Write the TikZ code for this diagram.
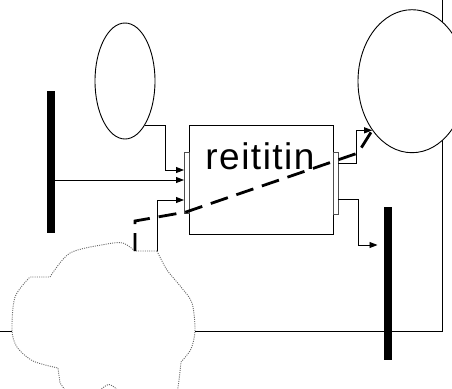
\documentclass[tikz,border=0pt]{standalone}
\usepackage{fontspec}
\newfontfamily\labelfont[LetterSpace=4.0]{Liberation Sans}
\usepackage{tikz}
\usetikzlibrary{shapes.geometric,arrows.meta}
\tikzset{ell/.style={ellipse,draw,fill=white,inner sep=0pt,line width=0.9pt},
  bar/.style={rectangle,fill=black,inner sep=0pt,minimum width=8pt},
  port/.style={rectangle,draw=black!70,fill=white,inner sep=0pt,minimum width=5pt,line width=0.8pt},
  wire/.style={line width=0.9pt},
  cloudline/.style={draw=black!60,fill=white,line width=0.9pt,dash pattern=on 1pt off 1.2pt},
  route/.style={line width=2.8pt,dash pattern=on 18pt off 9pt}}

\begin{document}
\begin{tikzpicture}[x=1pt,y=-1pt,>={Triangle[length=8pt,width=6pt]}]
    \useasboundingbox (0,0) rectangle (452,388);
    \clip (0,0) rectangle (452,388);

    \coordinate (w0) at (0,331);
    \coordinate (n0) at (442.5,0);
    \draw [wire] (w0) -| (n0);

    % cloud
    \draw [cloudline] plot[smooth] coordinates {(157,251) (167,270) (181,287) (192,303) (195,330) (191,349) (181,362)}
        -- plot[smooth] coordinates {(181,362) (179,380) (177,394)}
        -- plot[smooth] coordinates {(122,394) (109,384.5) (96,394)}
        -- (68,394) -- (60,383) -- (58,368)
        -- plot[smooth] coordinates {(58,368) (33,361) (17,347) (12,330) (15,297) (30,277)}
        -- (50,277)
        -- plot[smooth] coordinates {(50,277) (70,253) (107,244) (123,243) (135,251)}
        -- cycle;
    \coordinate (c1) at (135,251);
    \coordinate (c2) at (157,251);

    \node[ell,minimum width=60pt,minimum height=116pt] (ellL) at (125,81) {};
    \node[ell,minimum width=108pt,minimum height=143pt] (ellR) at (412,81.2) {};
    \node[bar,minimum height=142pt] (barL) at (51,162) {};
    \node[bar,minimum height=153pt] (barR) at (388,283.5) {};

    \node[rectangle,draw,fill=white,line width=0.9pt,inner sep=0pt,minimum width=144pt,minimum height=109pt] (box) at (261,179.5) {};
    \node[port,minimum height=61pt] (inport) at (186.5,182.5) {};
    \node[port,minimum height=62pt] (outport) at (335.5,183) {};
    \node[anchor=base,inner sep=0pt] (lbl) at (260,169.3) {\labelfont\fontsize{37}{44}\selectfont reititin};

    \coordinate (i1) at (184,170);
    \coordinate (i2) at (184,180);
    \coordinate (i3) at (184,200);
    \coordinate (o1) at (338,163);
    \coordinate (o2) at (338,199);
    \coordinate (r2) at (377.5,245);

    \draw [wire,->] (ellL.-66) -- ++(20.5,0) |- (i1);
    \draw [wire,->] (barL.east |- i2) -- (i2);
    \draw [wire,->] (c2) |- (i3);
    \draw [wire,->] (o1) -- ++(18,0) |- (ellR.231);
    \draw [wire,->] (o2) -- ++(20,0) |- (r2);

    \draw [route] (c1) -- (135,221) -- (186,212) -- (358,153) -- (ellR.231);
\end{tikzpicture}
\end{document}
